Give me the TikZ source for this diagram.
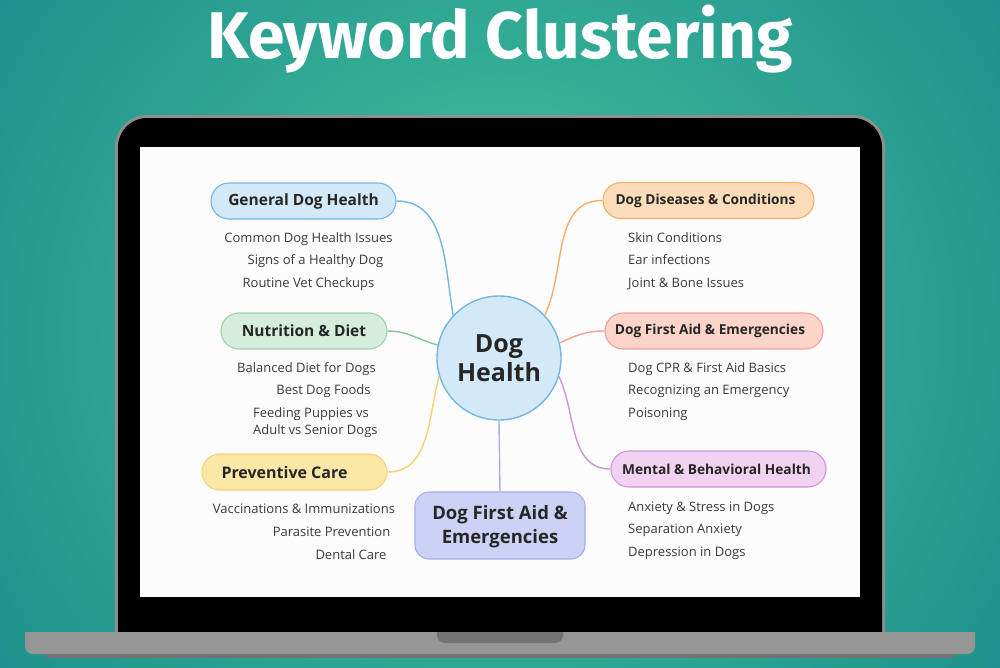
\documentclass[tikz,border=0pt]{standalone}
\usepackage{fontspec}
\newfontfamily\titlefont{Fira Sans}
\newfontfamily\mapfont{Open Sans}
\usepackage{tikz}
\usetikzlibrary{positioning,calc}
\definecolor{bglight}{HTML}{3EBB99}
\definecolor{bgdark}{HTML}{0E7B86}
\definecolor{lidgrey}{HTML}{8E8E8E}
\definecolor{basegrey}{HTML}{969696}
\definecolor{notchgrey}{HTML}{737373}
\definecolor{inkdark}{HTML}{262626}
\definecolor{inkitem}{HTML}{3A3A3A}
\definecolor{bluefill}{HTML}{D3E9F8}
\definecolor{blueline}{HTML}{72B6E2}
\definecolor{greenfill}{HTML}{D5EEDC}
\definecolor{greenline}{HTML}{86C59A}
\definecolor{yellowfill}{HTML}{FCE8A6}
\definecolor{yellowline}{HTML}{F6D273}
\definecolor{orangefill}{HTML}{FDDDB9}
\definecolor{orangeline}{HTML}{F6AE68}
\definecolor{salmonfill}{HTML}{FCD4C8}
\definecolor{salmonline}{HTML}{F0A09A}
\definecolor{pinkfill}{HTML}{F1D3F1}
\definecolor{pinkline}{HTML}{C996D8}
\definecolor{lavfill}{HTML}{CCD2F5}
\definecolor{lavline}{HTML}{A7ADEA}
\pgfdeclareradialshading{bgglow}{\pgfpoint{0bp}{0bp}}{%
  color(0bp)=(bglight); color(4bp)=(bglight);
  color(36bp)=(bgdark); color(72bp)=(bgdark)}
\tikzset{
  pillbox/.style={draw, rounded corners=18pt, line width=1.1pt,
    minimum height=36pt, inner sep=0pt, align=center,
    text=inkdark, font=\mapfont\bfseries},
  hubcircle/.style={circle, draw=blueline, fill=bluefill, line width=1.4pt,
    minimum size=124pt, inner sep=0pt, align=center, text=inkdark,
    font=\mapfont\bfseries\fontsize{25}{30}\selectfont},
  itemtext/.style={text=inkitem, inner sep=0pt, align=left,
    font=\mapfont\fontsize{13}{17.5}\selectfont},
  link/.style={line width=1.4pt},
}
\begin{document}
\begin{tikzpicture}[x=1pt, y=1pt]
  \useasboundingbox (0,0) rectangle (1000,-667);

  % Background
  \shade[shading=bgglow] (-100,267) rectangle (1100,-933);

  % Title
  \node[text=white, font=\titlefont\bfseries\fontsize{66}{72}\selectfont,
        anchor=base] (title) at (500,-58) {Keyword Clustering};

  % Laptop
  \fill[lidgrey] (115,-632) -- (115,-147) arc (180:90:32) -- (853,-115)
    arc (90:0:32) -- (885,-632) -- cycle;
  \fill[black] (118,-632) -- (118,-147) arc (180:90:29) -- (853,-118)
    arc (90:0:29) -- (882,-632) -- cycle;
  \fill[white!98!gray] (140,-147) rectangle (860,-597);
  \fill[notchgrey] (46,-650) rectangle (955,-658);
  \fill[basegrey] (25,-632) -- (25,-646) arc (180:270:8) -- (967,-654)
    arc (270:360:8) -- (975,-632) -- cycle;
  \fill[notchgrey] (437,-632) -- (437,-635) arc (180:270:8) -- (555,-643)
    arc (270:360:8) -- (563,-632) -- cycle;

  % Hub
  \node[hubcircle] (hub) at (499,-358) {Dog\\[-1pt]Health};

  % Left topics
  \node[pillbox, fill=bluefill, draw=blueline, minimum width=185pt,
        font=\mapfont\bfseries\fontsize{15.5}{20}\selectfont]
    (general) at (303.5,-201) {General Dog Health};
  \node[pillbox, fill=greenfill, draw=greenline!80, minimum width=166pt,
        font=\mapfont\bfseries\fontsize{15.5}{20}\selectfont]
    (nutrition) at (304,-331) {Nutrition \& Diet};
  \node[pillbox, fill=yellowfill, draw=yellowline, minimum width=185pt,
        font=\mapfont\bfseries\fontsize{16}{20}\selectfont]
    (preventive) at (294.5,-472) {Preventive Care\hspace*{20pt}};

  % Right topics
  \node[pillbox, fill=orangefill, draw=orangeline, minimum width=211pt,
        font=\mapfont\bfseries\fontsize{13.7}{17}\selectfont]
    (diseases) at (708.5,-200.5) {Dog Diseases \& Conditions\hspace*{6pt}};
  \node[pillbox, fill=salmonfill, draw=salmonline, minimum width=218pt,
        font=\mapfont\bfseries\fontsize{13.7}{17}\selectfont]
    (firstaid) at (714,-331) {Dog First Aid \& Emergencies\hspace*{8pt}};
  \node[pillbox, fill=pinkfill, draw=pinkline, minimum width=215pt,
        font=\mapfont\bfseries\fontsize{13.7}{17}\selectfont]
    (mental) at (718.5,-469) {Mental \& Behavioral Health\hspace*{4pt}};

  % Bottom topic
  \node[pillbox, rounded corners=14pt, fill=lavfill, draw=lavline,
        minimum width=170pt, minimum height=67pt,
        font=\mapfont\bfseries\fontsize{18.5}{24}\selectfont]
    (emergency) at (500,-525.5) {\rule{0pt}{17pt}Dog First Aid \&\\Emergencies};

  % Items, left
  \node[itemtext, anchor=mid] (gen1) at (308.5,-240.5) {Common Dog Health Issues};
  \node[itemtext, anchor=mid] (gen2) at (315.5,-262.5) {Signs of a Healthy Dog};
  \node[itemtext, anchor=mid] (gen3) at (308.5,-285.5) {Routine Vet Checkups};
  \node[itemtext, anchor=mid] (nut1) at (306.5,-370.5) {Balanced Diet for Dogs};
  \node[itemtext, anchor=mid] (nut2) at (323.5,-392.5) {Best Dog Foods};
  \node[itemtext, anchor=north west] (nut3) at (253,-407)
    {Feeding Puppies vs\\Adult vs Senior Dogs};
  \node[itemtext, anchor=mid] (pre1) at (304,-511.5) {Vaccinations \& Immunizations};
  \node[itemtext, anchor=mid] (pre2) at (331.5,-534.5) {Parasite Prevention};
  \node[itemtext, anchor=mid] (pre3) at (351,-557.5) {Dental Care};

  % Items, right
  \node[itemtext, anchor=mid west] (dis1) at (628,-240.5) {Skin Conditions};
  \node[itemtext, anchor=mid west] (dis2) at (628,-262.5) {Ear infections};
  \node[itemtext, anchor=mid west] (dis3) at (628,-285.5) {Joint \& Bone Issues};
  \node[itemtext, anchor=mid west] (aid1) at (628,-370.5) {Dog CPR \& First Aid Basics};
  \node[itemtext, anchor=mid west] (aid2) at (628,-392.5) {Recognizing an Emergency};
  \node[itemtext, anchor=mid west] (aid3) at (628,-415.5) {Poisoning};
  \node[itemtext, anchor=mid west] (men1) at (628,-509.5) {Anxiety \& Stress in Dogs};
  \node[itemtext, anchor=mid west] (men2) at (628,-531.5) {Separation Anxiety};
  \node[itemtext, anchor=mid west] (men3) at (628,-554.5) {Depression in Dogs};

  % Connectors
  \draw[link, blueline] (general.east) to[out=0, in=100] (hub.137);
  \draw[link, greenline] (nutrition.east) to[out=0, in=165] (hub.168);
  \draw[link, yellowline] (preventive.east) to[out=0, in=255] (hub.197);
  \draw[link, orangeline] (hub.43) to[out=65, in=180] (diseases.west);
  \draw[link, salmonline] (hub.14) to[out=25, in=180] (firstaid.west);
  \draw[link, pinkline] (hub.-17) to[out=-65, in=180] (mental.west);
  \draw[link, lavline] (hub.south) -- (emergency.north);
\end{tikzpicture}
\end{document}
